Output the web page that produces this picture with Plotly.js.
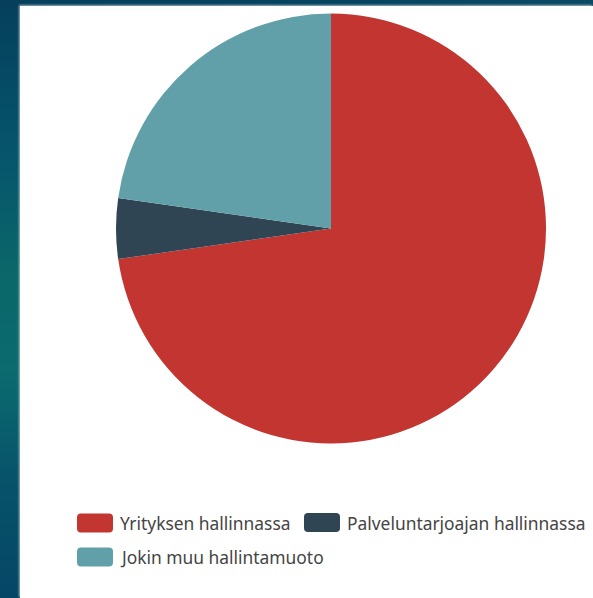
<!DOCTYPE html>
<html>
<head>
<meta charset="utf-8">
<script src="https://cdn.plot.ly/plotly-3.0.1.min.js"></script>
<style>
  html, body { margin: 0; padding: 0; width: 593px; height: 598px; overflow: hidden; }
  body { background: linear-gradient(180deg, #053f5c 0%, #06546c 25%, #0a6669 45%, #0b6b6f 62%, #07536a 80%, #054666 100%); position: relative; }
  #top { position: absolute; left: 0; top: 0; width: 593px; height: 6px; background: linear-gradient(90deg, #053f5c, #06445f 60%, #0a4a63); }
  #chart { position: absolute; left: 20px; top: 6px; width: 573px; height: 592px; background: #fff; box-shadow: -1px -1px 2px rgba(255,255,255,0.6); }
</style>
</head>
<body>
<div id="top"></div>
<div id="chart"></div>
<script>
const labels = ["Yrityksen hallinnassa", "Palveluntarjoajan hallinnassa", "Jokin muu hallintamuoto"];
const values = [16, 1, 5];
const colors = ["#c23531", "#2f4554", "#61a0a8"];

const W = 573, H = 592;
const px = x => x / W;
const py = y => 1 - y / H;

// pie geometry (pixels inside the chart div)
const cx = 311, cy = 222.5, r = 215;

// legend item placement (icon top-left in pixels inside the chart div)
const legendPos = [[57, 507.5], [284, 507], [57, 541.5]];
const iconW = 36, iconH = 19, rad = 4;

function roundRect(x, y, w, h, r) {
  const X = v => px(v), Y = v => py(v);
  return `M ${X(x + r)},${Y(y)} L ${X(x + w - r)},${Y(y)} Q ${X(x + w)},${Y(y)} ${X(x + w)},${Y(y + r)} ` +
         `L ${X(x + w)},${Y(y + h - r)} Q ${X(x + w)},${Y(y + h)} ${X(x + w - r)},${Y(y + h)} ` +
         `L ${X(x + r)},${Y(y + h)} Q ${X(x)},${Y(y + h)} ${X(x)},${Y(y + h - r)} ` +
         `L ${X(x)},${Y(y + r)} Q ${X(x)},${Y(y)} ${X(x + r)},${Y(y)} Z`;
}

const shapes = labels.map((l, i) => ({
  type: 'path', xref: 'paper', yref: 'paper',
  path: roundRect(legendPos[i][0], legendPos[i][1], iconW, iconH, rad),
  fillcolor: colors[i], line: { width: 0 }
}));

const annotations = labels.map((l, i) => ({
  xref: 'paper', yref: 'paper',
  x: px(legendPos[i][0] + iconW + 5), y: py(legendPos[i][1] + iconH / 2),
  xanchor: 'left', yanchor: 'middle', showarrow: false,
  text: l,
  font: { family: 'Noto Sans, sans-serif', size: 17.4, color: '#444' }
}));

const data = [{
  type: 'pie',
  labels: labels,
  values: values,
  marker: { colors: colors, line: { width: 0 } },
  sort: false,
  direction: 'clockwise',
  rotation: 0,
  textinfo: 'none',
  hoverinfo: 'label+value+percent',
  domain: { x: [px(cx - r), px(cx + r)], y: [py(cy + r), py(cy - r)] },
  showlegend: false
}];

const layout = {
  width: W, height: H,
  margin: { l: 0, r: 0, t: 0, b: 0 },
  paper_bgcolor: '#ffffff',
  showlegend: false,
  shapes: shapes,
  annotations: annotations
};

Plotly.newPlot('chart', data, layout, { displayModeBar: false, staticPlot: true });
</script>
</body>
</html>
